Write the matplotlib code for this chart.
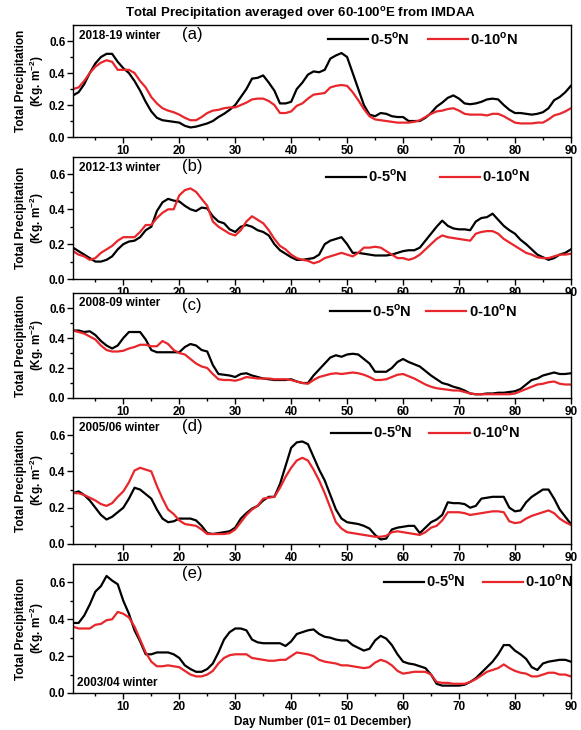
import numpy as np
import matplotlib.pyplot as plt

plt.rcParams['font.family'] = ['Liberation Sans', 'DejaVu Sans']

days = list(range(1, 91))

# (a) 2018-19 winter
a_05 = [0.26, 0.28, 0.33, 0.40, 0.46, 0.50, 0.52, 0.52, 0.47, 0.43,
        0.40, 0.35, 0.29, 0.22, 0.16, 0.12, 0.105, 0.10, 0.095, 0.09,
        0.07, 0.06, 0.065, 0.075, 0.085, 0.10, 0.125, 0.145, 0.17, 0.20,
        0.25, 0.30, 0.365, 0.37, 0.385, 0.34, 0.29, 0.21, 0.21, 0.22,
        0.30, 0.34, 0.39, 0.41, 0.405, 0.42, 0.49, 0.51, 0.525, 0.50,
        0.40, 0.30, 0.20, 0.14, 0.13, 0.15, 0.145, 0.13, 0.125, 0.125,
        0.10, 0.10, 0.10, 0.12, 0.15, 0.19, 0.215, 0.245, 0.26, 0.24,
        0.21, 0.205, 0.21, 0.22, 0.235, 0.24, 0.235, 0.20, 0.17, 0.15,
        0.15, 0.145, 0.14, 0.145, 0.155, 0.18, 0.23, 0.25, 0.28, 0.32]
a_010 = [0.30, 0.31, 0.35, 0.40, 0.44, 0.465, 0.48, 0.47, 0.42, 0.42,
         0.42, 0.40, 0.35, 0.31, 0.25, 0.21, 0.18, 0.165, 0.155, 0.14,
         0.12, 0.105, 0.105, 0.125, 0.15, 0.165, 0.17, 0.18, 0.185, 0.185,
         0.20, 0.215, 0.235, 0.24, 0.24, 0.225, 0.20, 0.15, 0.15, 0.16,
         0.195, 0.21, 0.24, 0.265, 0.27, 0.275, 0.31, 0.32, 0.325, 0.32,
         0.28, 0.23, 0.175, 0.13, 0.11, 0.105, 0.10, 0.095, 0.09, 0.09,
         0.09, 0.095, 0.105, 0.125, 0.145, 0.16, 0.165, 0.175, 0.18, 0.165,
         0.145, 0.14, 0.14, 0.14, 0.135, 0.145, 0.145, 0.13, 0.11, 0.09,
         0.085, 0.085, 0.085, 0.09, 0.09, 0.11, 0.135, 0.145, 0.16, 0.18]

# (b) 2012-13 winter
b_05 = [0.18, 0.16, 0.14, 0.12, 0.10, 0.10, 0.11, 0.13, 0.17, 0.20,
        0.215, 0.22, 0.24, 0.28, 0.30, 0.39, 0.44, 0.46, 0.45, 0.445,
        0.42, 0.40, 0.39, 0.41, 0.405, 0.36, 0.33, 0.32, 0.285, 0.27,
        0.30, 0.31, 0.30, 0.28, 0.27, 0.25, 0.20, 0.165, 0.145, 0.125,
        0.11, 0.11, 0.115, 0.12, 0.14, 0.20, 0.22, 0.23, 0.24, 0.20,
        0.15, 0.15, 0.145, 0.14, 0.135, 0.135, 0.135, 0.14, 0.15, 0.16,
        0.165, 0.165, 0.18, 0.22, 0.26, 0.30, 0.335, 0.305, 0.29, 0.285,
        0.285, 0.28, 0.33, 0.35, 0.355, 0.375, 0.34, 0.305, 0.28, 0.26,
        0.225, 0.20, 0.17, 0.14, 0.125, 0.11, 0.12, 0.14, 0.15, 0.17]
b_010 = [0.16, 0.14, 0.13, 0.11, 0.12, 0.15, 0.17, 0.19, 0.22, 0.24,
         0.24, 0.24, 0.27, 0.31, 0.31, 0.35, 0.38, 0.40, 0.40, 0.48,
         0.51, 0.52, 0.50, 0.46, 0.42, 0.33, 0.30, 0.28, 0.26, 0.25,
         0.28, 0.33, 0.36, 0.34, 0.32, 0.28, 0.23, 0.19, 0.17, 0.14,
         0.12, 0.11, 0.105, 0.09, 0.10, 0.12, 0.13, 0.14, 0.15, 0.14,
         0.13, 0.15, 0.18, 0.18, 0.185, 0.18, 0.16, 0.14, 0.12, 0.12,
         0.11, 0.12, 0.14, 0.17, 0.20, 0.23, 0.25, 0.24, 0.235, 0.23,
         0.225, 0.22, 0.26, 0.27, 0.275, 0.275, 0.26, 0.23, 0.21, 0.19,
         0.17, 0.15, 0.14, 0.125, 0.12, 0.12, 0.13, 0.14, 0.14, 0.145]

# (c) 2008-09 winter
c_05 = [0.45, 0.45, 0.44, 0.445, 0.42, 0.38, 0.35, 0.33, 0.35, 0.40,
        0.44, 0.44, 0.44, 0.39, 0.32, 0.305, 0.305, 0.305, 0.305, 0.305,
        0.34, 0.36, 0.35, 0.32, 0.31, 0.22, 0.16, 0.155, 0.15, 0.14,
        0.16, 0.165, 0.15, 0.14, 0.13, 0.125, 0.12, 0.12, 0.12, 0.125,
        0.11, 0.10, 0.10, 0.15, 0.19, 0.23, 0.27, 0.285, 0.275, 0.29,
        0.295, 0.29, 0.26, 0.23, 0.175, 0.175, 0.175, 0.20, 0.24, 0.26,
        0.24, 0.225, 0.21, 0.18, 0.15, 0.125, 0.10, 0.09, 0.075, 0.065,
        0.05, 0.03, 0.025, 0.025, 0.03, 0.03, 0.035, 0.035, 0.04, 0.045,
        0.06, 0.09, 0.12, 0.13, 0.15, 0.16, 0.17, 0.16, 0.16, 0.165]
c_010 = [0.45, 0.44, 0.43, 0.41, 0.39, 0.35, 0.32, 0.31, 0.31, 0.315,
         0.33, 0.34, 0.355, 0.355, 0.345, 0.345, 0.38, 0.36, 0.32, 0.30,
         0.29, 0.26, 0.23, 0.21, 0.20, 0.16, 0.125, 0.12, 0.12, 0.115,
         0.125, 0.14, 0.135, 0.13, 0.13, 0.13, 0.125, 0.125, 0.125, 0.12,
         0.11, 0.10, 0.095, 0.12, 0.14, 0.15, 0.16, 0.165, 0.16, 0.165,
         0.17, 0.165, 0.155, 0.14, 0.12, 0.12, 0.125, 0.14, 0.155, 0.16,
         0.145, 0.13, 0.11, 0.09, 0.075, 0.065, 0.06, 0.055, 0.05, 0.05,
         0.04, 0.03, 0.025, 0.025, 0.025, 0.025, 0.025, 0.025, 0.025, 0.03,
         0.045, 0.06, 0.075, 0.09, 0.095, 0.105, 0.11, 0.095, 0.09, 0.09]

# (d) 2005/06 winter
d_05 = [0.28, 0.29, 0.27, 0.24, 0.20, 0.16, 0.135, 0.15, 0.175, 0.20,
        0.25, 0.31, 0.30, 0.275, 0.25, 0.19, 0.14, 0.12, 0.125, 0.14,
        0.14, 0.14, 0.13, 0.10, 0.06, 0.055, 0.06, 0.065, 0.07, 0.09,
        0.14, 0.17, 0.195, 0.21, 0.24, 0.26, 0.26, 0.33, 0.43, 0.53,
        0.56, 0.565, 0.55, 0.48, 0.41, 0.35, 0.27, 0.19, 0.14, 0.12,
        0.115, 0.11, 0.10, 0.085, 0.05, 0.025, 0.03, 0.08, 0.09, 0.095,
        0.10, 0.10, 0.06, 0.09, 0.12, 0.135, 0.16, 0.23, 0.225, 0.225,
        0.22, 0.20, 0.21, 0.25, 0.255, 0.26, 0.26, 0.26, 0.20, 0.18,
        0.185, 0.23, 0.26, 0.28, 0.30, 0.30, 0.25, 0.19, 0.15, 0.11]
d_010 = [0.28, 0.28, 0.27, 0.255, 0.24, 0.22, 0.21, 0.225, 0.26, 0.29,
         0.34, 0.405, 0.42, 0.41, 0.40, 0.32, 0.25, 0.19, 0.165, 0.13,
         0.11, 0.105, 0.10, 0.08, 0.055, 0.055, 0.055, 0.055, 0.06, 0.08,
         0.12, 0.16, 0.19, 0.21, 0.25, 0.255, 0.26, 0.31, 0.37, 0.42,
         0.46, 0.475, 0.46, 0.41, 0.35, 0.28, 0.20, 0.12, 0.085, 0.065,
         0.06, 0.055, 0.05, 0.045, 0.04, 0.04, 0.045, 0.065, 0.07, 0.065,
         0.06, 0.055, 0.05, 0.065, 0.09, 0.10, 0.13, 0.175, 0.175, 0.175,
         0.17, 0.16, 0.165, 0.17, 0.175, 0.18, 0.18, 0.175, 0.125, 0.115,
         0.12, 0.14, 0.155, 0.165, 0.175, 0.185, 0.17, 0.14, 0.12, 0.105]

# (e) 2003/04 winter
e_05 = [0.38, 0.38, 0.42, 0.48, 0.55, 0.58, 0.635, 0.61, 0.59, 0.50,
        0.43, 0.34, 0.28, 0.21, 0.21, 0.22, 0.22, 0.22, 0.21, 0.19,
        0.15, 0.13, 0.115, 0.115, 0.13, 0.16, 0.22, 0.29, 0.33, 0.35,
        0.35, 0.34, 0.29, 0.275, 0.27, 0.27, 0.27, 0.27, 0.255, 0.28,
        0.32, 0.33, 0.34, 0.345, 0.32, 0.305, 0.30, 0.29, 0.285, 0.285,
        0.26, 0.245, 0.23, 0.24, 0.285, 0.31, 0.295, 0.26, 0.21, 0.17,
        0.16, 0.155, 0.145, 0.135, 0.10, 0.05, 0.04, 0.04, 0.04, 0.04,
        0.045, 0.06, 0.08, 0.11, 0.14, 0.17, 0.21, 0.26, 0.26, 0.23,
        0.21, 0.185, 0.14, 0.125, 0.16, 0.17, 0.175, 0.18, 0.18, 0.17]
e_010 = [0.36, 0.35, 0.35, 0.35, 0.37, 0.375, 0.395, 0.40, 0.44, 0.43,
         0.41, 0.36, 0.29, 0.22, 0.17, 0.145, 0.145, 0.15, 0.145, 0.14,
         0.12, 0.10, 0.09, 0.09, 0.10, 0.12, 0.16, 0.19, 0.205, 0.21,
         0.21, 0.21, 0.19, 0.185, 0.18, 0.175, 0.175, 0.18, 0.18, 0.20,
         0.22, 0.215, 0.21, 0.20, 0.18, 0.17, 0.165, 0.16, 0.15, 0.15,
         0.145, 0.14, 0.135, 0.14, 0.165, 0.18, 0.17, 0.15, 0.12, 0.105,
         0.11, 0.115, 0.115, 0.115, 0.10, 0.06, 0.055, 0.055, 0.05, 0.05,
         0.05, 0.06, 0.075, 0.095, 0.115, 0.125, 0.135, 0.155, 0.135, 0.12,
         0.11, 0.105, 0.09, 0.09, 0.10, 0.11, 0.11, 0.10, 0.10, 0.09]

panels = [
    # data05, data010, year label, letter, [left, bottom, width, height], legend x, col spacing, legend y, letter y
    (a_05, a_010, '2018-19 winter', '(a)', [0.1256, 0.8123, 0.857, 0.1534], 0.500, 1.25, 1.0, 0.985),
    (b_05, b_010, '2012-13 winter', '(b)', [0.1256, 0.6178, 0.857, 0.1671], 0.496, 2.2, 0.955, 0.985),
    (c_05, c_010, '2008-09 winter', '(c)', [0.1256, 0.4548, 0.857, 0.1438], 0.504, 1.0, 0.965, 0.955),
    (d_05, d_010, '2005/06 winter', '(d)', [0.1256, 0.2548, 0.857, 0.1740], 0.506, 1.15, 0.99, 0.985),
    (e_05, e_010, '2003/04 winter', '(e)', [0.1256, 0.0507, 0.857, 0.1767], 0.612, 1.2, 0.975, 0.985),
]

fig = plt.figure(figsize=(5.81, 7.30), dpi=100)
red = '#e8262b'

for i, (y05, y010, year, letter, pos, lx, cs, ly, ty) in enumerate(panels):
    ax = fig.add_axes(pos)
    ax.plot(days, y05, color='black', lw=1.6, label='0-5$^{\\mathregular{o}}$N')
    ax.plot(days, y010, color=red, lw=1.6, label='0-10$^{\\mathregular{o}}$N')
    ax.set_xlim(1, 90)
    ax.set_ylim(0, 0.7)
    ax.set_xticks(range(10, 91, 10))
    ax.set_xticks(range(5, 90, 10), minor=True)
    ax.set_yticks([0.0, 0.2, 0.4, 0.6])
    ax.set_yticks([0.1, 0.3, 0.5], minor=True)
    ax.set_yticklabels(['0.0', '0.2', '0.4', '0.6'])
    ax.tick_params(which='major', direction='out', length=4, width=1, labelsize=8.5, pad=1.5)
    ax.tick_params(which='minor', direction='out', length=2.5, width=1)
    for lab in ax.get_xticklabels() + ax.get_yticklabels():
        lab.set_fontweight('bold')
    for sp in ax.spines.values():
        sp.set_linewidth(1)
    ax.set_ylabel('Total Precipitation\n(Kg. m$^{\\mathregular{-2}}$)', fontsize=8.5,
                  fontweight='bold', labelpad=2, linespacing=1.1)
    ax.legend(loc='upper left', bbox_to_anchor=(lx, ly), ncol=2, frameon=False,
              handlelength=2.75, handletextpad=0.15, columnspacing=cs,
              borderaxespad=0, prop={'weight': 'bold', 'size': 10.5})
    if letter == '(e)':
        ax.text(0.008, 0.03, year, transform=ax.transAxes, fontsize=8.5,
                fontweight='bold', ha='left', va='bottom')
    else:
        ax.text(0.012, 0.96, year, transform=ax.transAxes, fontsize=8.5,
                fontweight='bold', ha='left', va='top')
    ax.text(0.218, ty, letter, transform=ax.transAxes, fontsize=12, ha='left', va='top')

fig.text(0.517, 0.982, 'Total Precipitation averaged over 60-100$^{\\mathregular{o}}$E from IMDAA',
         ha='center', va='center', fontsize=9.5, fontweight='bold')
fig.text(0.555, 0.011, 'Day Number (01= 01 December)', ha='center', va='center',
         fontsize=8.5, fontweight='bold')

fig.savefig('out.png', dpi=100)
